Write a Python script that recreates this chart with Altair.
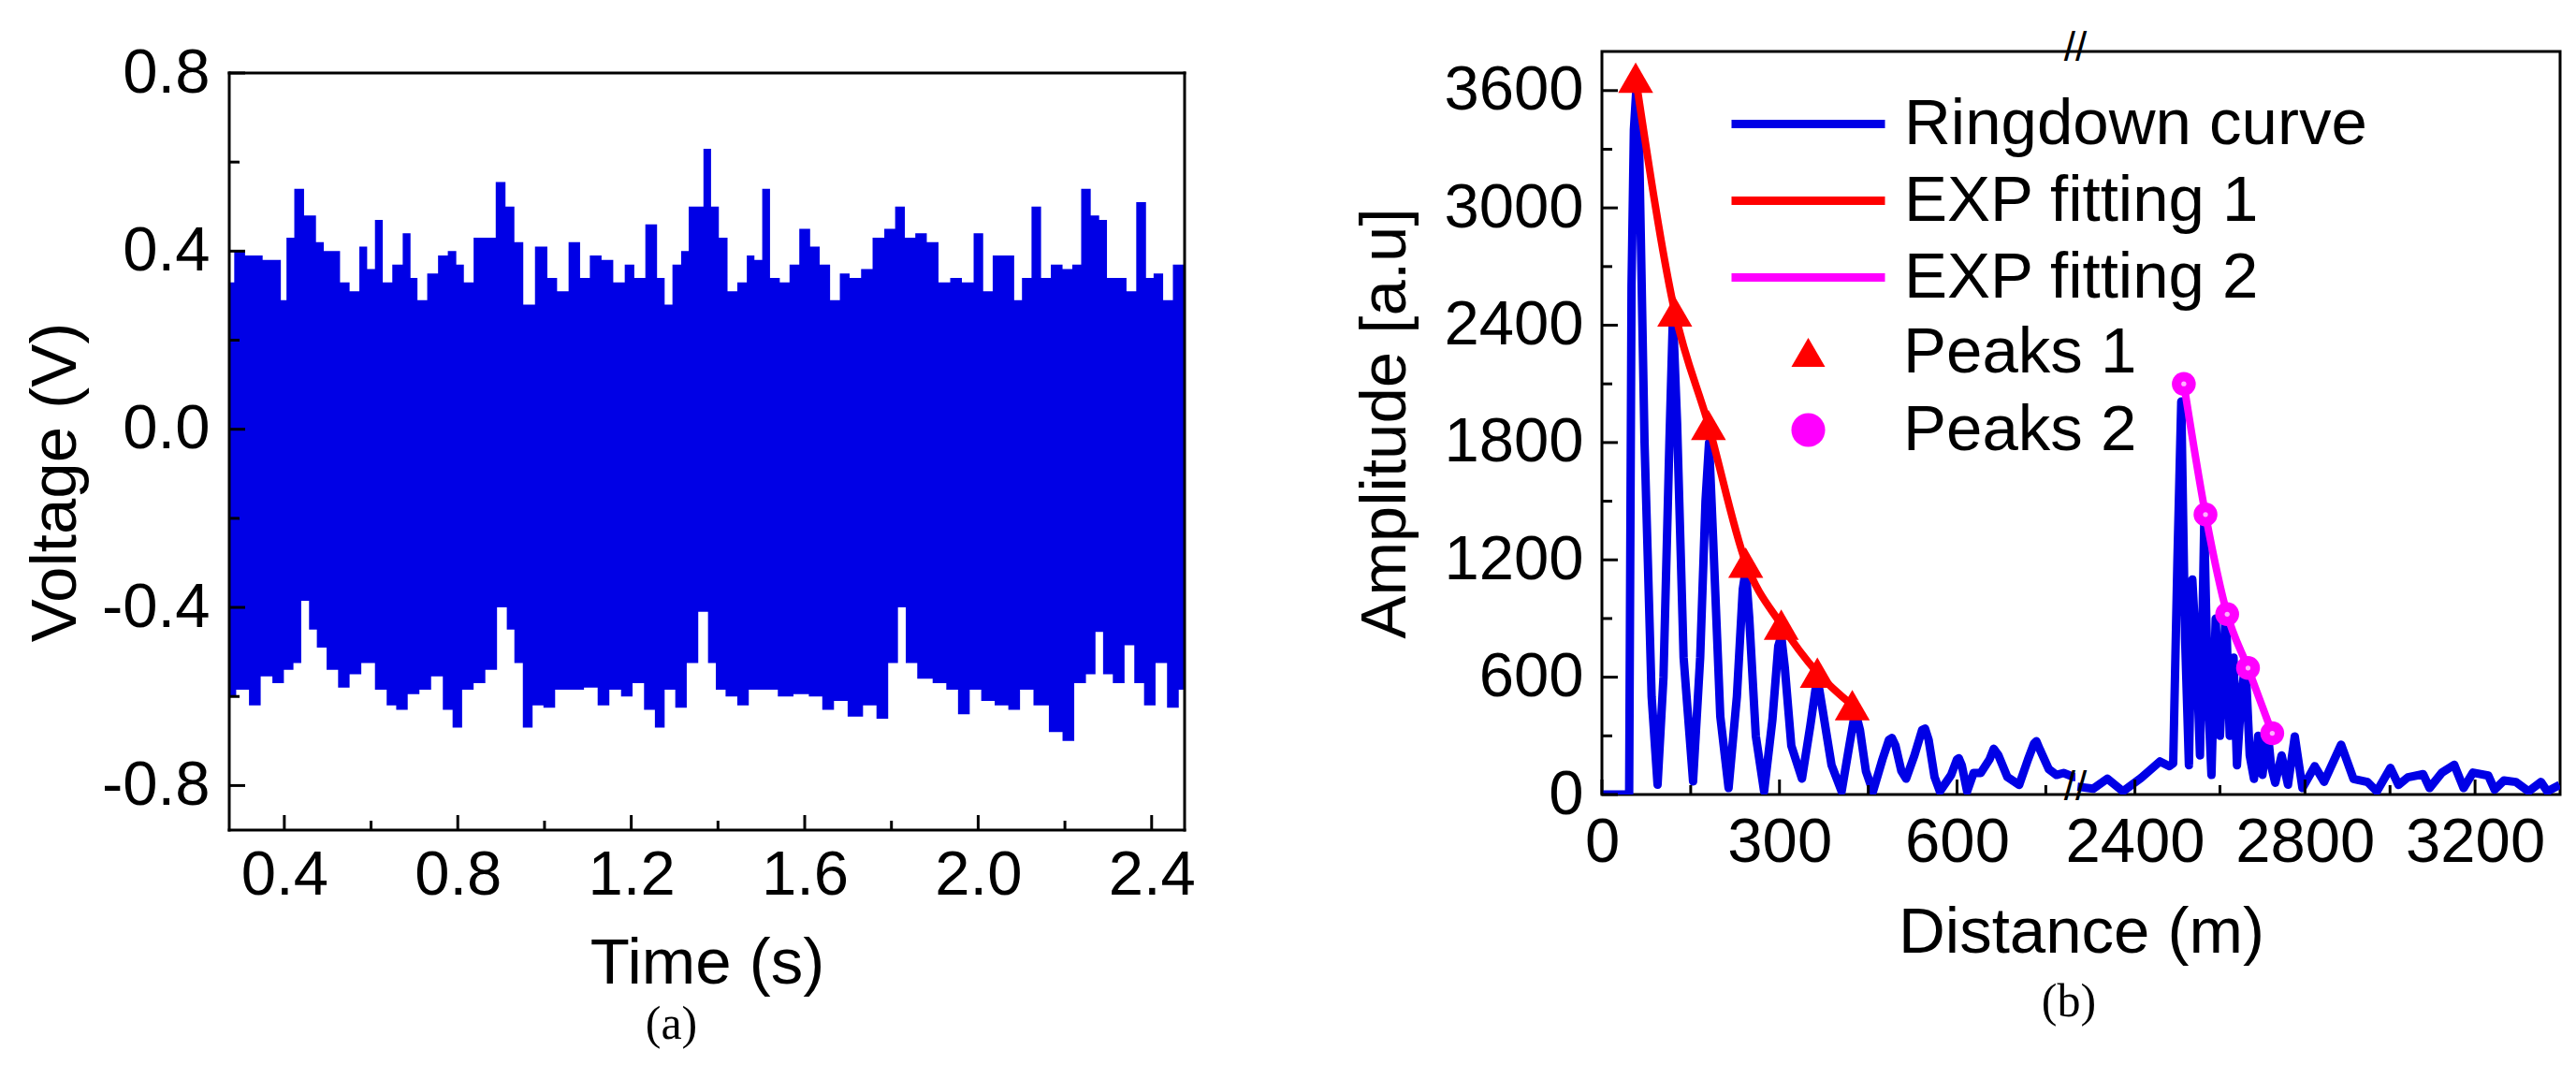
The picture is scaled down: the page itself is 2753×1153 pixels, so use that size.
import altair as alt
import pandas as pd

BLUE = "#0000e6"
RED = "#ff0000"
MAGENTA = "#ff00ff"
FONT = "Liberation Sans"

# ---------------- Panel (a): voltage signal envelope ----------------
T_UP = [0.273, 0.296, 0.323, 0.341, 0.359, 0.386, 0.398, 0.412, 0.434, 0.457, 0.466, 0.480, 0.502, 0.520,
        0.537, 0.564, 0.582, 0.600, 0.618, 0.636, 0.662, 0.684, 0.698, 0.716, 0.743, 0.766, 0.788, 0.805,
        0.823, 0.850, 0.877, 0.898, 0.922, 0.939, 0.963, 0.993, 1.020, 1.038, 1.073, 1.091, 1.118, 1.145,
        1.172, 1.198, 1.216, 1.249, 1.270, 1.284, 1.306, 1.324, 1.341, 1.356, 1.377, 1.391, 1.413, 1.431,
        1.458, 1.475, 1.493, 1.511, 1.529, 1.556, 1.574, 1.601, 1.624, 1.645, 1.672, 1.690, 1.717, 1.743,
        1.770, 1.797, 1.820, 1.842, 1.868, 1.895, 1.922, 1.949, 1.976, 2.003, 2.020, 2.047, 2.074, 2.092,
        2.110, 2.136, 2.154, 2.181, 2.208, 2.226, 2.249, 2.270, 2.288, 2.306, 2.333, 2.351, 2.378, 2.396,
        2.413, 2.440, 2.458, 2.476]
V_UP = [0.33, 0.40, 0.39, 0.39, 0.38, 0.38, 0.29, 0.43, 0.54, 0.48, 0.48, 0.42, 0.40, 0.40,
        0.33, 0.31, 0.41, 0.36, 0.47, 0.33, 0.37, 0.44, 0.34, 0.29, 0.35, 0.39, 0.40, 0.37,
        0.33, 0.43, 0.43, 0.555, 0.50, 0.42, 0.28, 0.41, 0.34, 0.31, 0.42, 0.34, 0.39, 0.38,
        0.33, 0.37, 0.34, 0.46, 0.34, 0.28, 0.37, 0.40, 0.50, 0.50, 0.63, 0.50, 0.43, 0.31,
        0.33, 0.39, 0.38, 0.54, 0.34, 0.33, 0.37, 0.45, 0.41, 0.37, 0.29, 0.35, 0.34, 0.36,
        0.43, 0.45, 0.50, 0.43, 0.44, 0.42, 0.33, 0.34, 0.33, 0.44, 0.31, 0.39, 0.39, 0.29,
        0.34, 0.50, 0.34, 0.37, 0.36, 0.37, 0.54, 0.48, 0.47, 0.34, 0.34, 0.31, 0.51, 0.34,
        0.35, 0.29, 0.37, 0.37]
T_LO = [0.273, 0.305, 0.332, 0.359, 0.386, 0.412, 0.430, 0.448, 0.466, 0.484, 0.511, 0.537, 0.564, 0.591,
        0.627, 0.645, 0.671, 0.698, 0.725, 0.752, 0.779, 0.797, 0.823, 0.850, 0.877, 0.904, 0.922, 0.939,
        0.961, 0.984, 1.011, 1.038, 1.073, 1.109, 1.136, 1.163, 1.190, 1.216, 1.243, 1.266, 1.288, 1.315,
        1.341, 1.368, 1.386, 1.404, 1.431, 1.458, 1.484, 1.520, 1.556, 1.592, 1.627, 1.654, 1.681, 1.717,
        1.752, 1.779, 1.806, 1.824, 1.842, 1.877, 1.913, 1.940, 1.967, 1.994, 2.020, 2.056, 2.083, 2.110,
        2.145, 2.181, 2.208, 2.235, 2.262, 2.279, 2.297, 2.324, 2.351, 2.369, 2.396, 2.422, 2.449, 2.476]
V_LO = [-0.60, -0.585, -0.62, -0.555, -0.57, -0.54, -0.525, -0.385, -0.45, -0.49, -0.54, -0.58, -0.55, -0.525,
        -0.585, -0.62, -0.63, -0.595, -0.585, -0.555, -0.63, -0.67, -0.585, -0.57, -0.54, -0.40, -0.45, -0.525,
        -0.67, -0.62, -0.625, -0.585, -0.585, -0.58, -0.62, -0.585, -0.60, -0.57, -0.63, -0.67, -0.585, -0.625,
        -0.525, -0.41, -0.525, -0.585, -0.60, -0.62, -0.585, -0.585, -0.60, -0.595, -0.60, -0.63, -0.61, -0.645,
        -0.62, -0.65, -0.525, -0.40, -0.525, -0.56, -0.57, -0.585, -0.64, -0.585, -0.61, -0.62, -0.63, -0.585,
        -0.62, -0.68, -0.70, -0.57, -0.55, -0.455, -0.55, -0.57, -0.485, -0.57, -0.62, -0.525, -0.625, -0.585]
A_XTICKS = [0.4, 0.8, 1.2, 1.6, 2.0, 2.4]
A_XMINOR = [0.6, 1.0, 1.4, 1.8, 2.2]
A_YTICKS = [-0.8, -0.4, 0.0, 0.4, 0.8]
A_YMINOR = [-0.6, -0.2, 0.2, 0.6]
A_XDOM = [0.273, 2.476]
A_YDOM = [-0.9, 0.8]

# ---------------- Panel (b): ringdown curve ----------------
RING1_D = [0, 46, 50, 54, 58, 63, 72, 84, 94, 104, 114, 120, 127, 138, 154, 166, 175, 181, 188, 200,
           214, 228, 238, 243, 249, 260, 274, 288, 298, 303, 309, 320, 338, 352, 361, 366, 372, 388,
           405, 418, 426, 430, 436, 446, 458, 474, 485, 490, 496, 506, 514, 528, 541, 546, 552, 562,
           571, 590, 600, 603, 608, 617, 628, 640, 655, 662, 670, 685, 705, 720, 730, 734, 740, 755,
           768, 780, 797, 800]
RING1_A = [0, 0, 2600, 3400, 3600, 3300, 1800, 500, 50, 600, 1800, 2450, 1900, 700, 67, 700, 1500, 1800, 1300, 400,
           33, 500, 1050, 1150, 900, 300, 16, 380, 760, 810, 650, 250, 81, 350, 540, 560, 450, 150,
           16, 250, 390, 402, 330, 120, 16, 180, 280, 289, 250, 120, 81, 200, 330, 337, 280, 90,
           16, 100, 180, 186, 150, 16, 110, 110, 180, 234, 200, 90, 49, 180, 260, 273, 230, 130,
           100, 110, 90, 90]
RING2_D = [2265, 2302, 2335, 2372, 2415, 2459, 2481, 2490, 2500, 2509, 2518, 2527, 2535, 2545, 2553, 2563,
           2572, 2580, 2590, 2600, 2614, 2623, 2632, 2640, 2650, 2660, 2670, 2680, 2690, 2700, 2712, 2720,
           2730, 2745, 2760, 2776, 2794, 2823, 2845, 2885, 2914, 2947, 2969, 3001, 3020, 3042, 3078, 3093,
           3122, 3151, 3173, 3195, 3231, 3246, 3268, 3296, 3326, 3355, 3370, 3399]
RING2_A = [40, 30, 81, 16, 86, 169, 145, 160, 1200, 2010, 800, 150, 1100, 700, 200, 1380,
           500, 100, 900, 300, 957, 300, 700, 150, 500, 675, 200, 80, 300, 100, 330, 150,
           60, 200, 50, 297, 33, 145, 65, 255, 80, 64, 16, 136, 49, 88, 104, 33,
           112, 152, 33, 112, 97, 25, 72, 64, 16, 64, 16, 49]
PEAK1_D = [57, 123, 180, 243, 303, 364, 423]
PEAK1_A = [3666, 2470, 1890, 1186, 869, 623, 457]
PEAK2_D = [2515, 2566, 2617, 2666, 2723]
PEAK2_A = [2100, 1432, 922, 647, 313]
LINE_NAMES = ["Ringdown curve", "EXP fitting 1", "EXP fitting 2"]
PEAK_NAMES = ["Peaks 1", "Peaks 2"]
B_SEG1 = [0, 800]
B_SEG2 = [2260, 3400]
B_BREAK_FRAC = 506 / 1024
B_XTICKS = [0, 300, 600, 2400, 2800, 3200]
B_XMINOR = [150, 450, 750, 2600, 3000]
B_YTICKS = [0, 600, 1200, 1800, 2400, 3000, 3600]
B_YMINOR = [300, 900, 1500, 2100, 2700, 3300]
B_YDOM = [0, 3800]

# layout (pixels)
A_FRAME_H = 809          # visible frame height of panel (a)
A_TOP_GAP = 23           # panel (a) frame sits this much lower than panel (b)
AW, AH = 1021, A_FRAME_H + A_TOP_GAP
BW, BH = 1024, 794
MAJ, MIN = 16, 10

F = B_BREAK_FRAC
A_YSCALE_TOP = A_YDOM[1] + A_TOP_GAP * (A_YDOM[1] - A_YDOM[0]) / A_FRAME_H


def bpos(d):
    if d <= B_SEG1[1]:
        return (d - B_SEG1[0]) / (B_SEG1[1] - B_SEG1[0]) * F
    return F + (d - B_SEG2[0]) / (B_SEG2[1] - B_SEG2[0]) * (1 - F)


def xticks(xenc, field, values, h, length):
    return alt.Chart(pd.DataFrame({field: values})).mark_rule(color="black", strokeWidth=3).encode(
        x=xenc, y=alt.value(h), y2=alt.value(h - length))


def yticks(yenc, field, values, length):
    return alt.Chart(pd.DataFrame({field: values})).mark_rule(color="black", strokeWidth=3).encode(
        y=yenc, x=alt.value(0), x2=alt.value(length))


# ---------- left chart ----------
up_df = pd.DataFrame({"t": T_UP, "v": V_UP})
up_df["base"] = -0.2
lo_df = pd.DataFrame({"t": T_LO, "v": V_LO})
lo_df["base"] = 0.2

xa = alt.X("t:Q", scale=alt.Scale(domain=A_XDOM, nice=False, zero=False),
           axis=alt.Axis(values=A_XTICKS, labelExpr="format(datum.value, '.1f')",
                         labelPadding=15, title="Time (s)", titleY=108))
ya = alt.Y("v:Q", scale=alt.Scale(domain=[A_YDOM[0], A_YSCALE_TOP], nice=False, zero=False),
           axis=alt.Axis(values=A_YTICKS,
                         labelExpr="(datum.value < -1e-9 ? '-' : '') + format(abs(datum.value), '.1f')",
                         labelPadding=21, title="Voltage (V)", titlePadding=14, titleY=460))

upper = alt.Chart(up_df).mark_area(color=BLUE, interpolate="step", opacity=1).encode(
    x=xa, y=ya, y2="base:Q")
lower = alt.Chart(lo_df).mark_area(color=BLUE, interpolate="step", opacity=1).encode(
    x=xa, y=ya, y2="base:Q")

x0, x1 = A_XDOM
y0, y1 = A_YDOM
frame_df = pd.DataFrame({"t": [x0, x0, x0, x1], "t2": [x1, x1, x0, x1],
                         "v": [y1, y0, y0, y0], "v2": [y1, y0, y1, y1]})
frame = alt.Chart(frame_df).mark_rule(color="black", strokeWidth=3, strokeCap="square").encode(
    x=xa, x2="t2:Q", y=ya, y2="v2:Q")

left = alt.layer(
    upper, lower, frame,
    xticks(xa, "t", A_XTICKS, AH, MAJ), xticks(xa, "t", A_XMINOR, AH, MIN),
    yticks(ya, "v", A_YTICKS, MAJ + 1), yticks(ya, "v", A_YMINOR, MIN + 1),
).properties(
    width=AW, height=AH, view=alt.ViewBackground(stroke="transparent"),
    title=alt.TitleParams("(a)", orient="bottom", font="Liberation Serif", fontSize=50,
                          fontWeight="normal", color="black", offset=-20, dx=-38, dy=26))

# ---------- right chart ----------
ring_df = pd.DataFrame({
    "xp": [bpos(d) for d in RING1_D] + [bpos(d) for d in RING2_D],
    "A": RING1_A + RING2_A,
    "seg": [1] * len(RING1_D) + [2] * len(RING2_D),
})
ring_df["series"] = LINE_NAMES[0]
fit_df = pd.DataFrame({
    "xp": [bpos(d) for d in PEAK1_D] + [bpos(d) for d in PEAK2_D],
    "A": PEAK1_A + PEAK2_A,
    "series": [LINE_NAMES[1]] * len(PEAK1_D) + [LINE_NAMES[2]] * len(PEAK2_D),
})
pk_df = pd.DataFrame({
    "xp": [bpos(d) for d in PEAK1_D] + [bpos(d) for d in PEAK2_D],
    "A": PEAK1_A + PEAK2_A,
    "peaks": [PEAK_NAMES[0]] * len(PEAK1_D) + [PEAK_NAMES[1]] * len(PEAK2_D),
})
pk2_df = pk_df[pk_df["peaks"] == PEAK_NAMES[1]]

xlab = (f"datum.value <= {F} + 1e-6 ? format(round(datum.value / {F} * {B_SEG1[1]}), 'd') : "
        f"format(round({B_SEG2[0]} + (datum.value - {F}) / (1 - {F}) * {B_SEG2[1] - B_SEG2[0]}), 'd')")
xb = alt.X("xp:Q", scale=alt.Scale(domain=[0, 1], nice=False, zero=False),
           axis=alt.Axis(values=[bpos(v) for v in B_XTICKS], labelExpr=xlab,
                         labelPadding=18, title="Distance (m)", titleY=113))
yb = alt.Y("A:Q", scale=alt.Scale(domain=B_YDOM, nice=False, zero=False),
           axis=alt.Axis(values=B_YTICKS, format="d", labelPadding=20,
                         title="Amplitude [a.u]", titlePadding=27))

line_legend = alt.Legend(title=None, orient="none", legendX=175, legendY=32,
                         symbolType="M-2,0L2,0", symbolSize=6724, symbolStrokeWidth=9,
                         labelFont=FONT, labelFontSize=69, labelColor="black", labelOffset=57,
                         rowPadding=1, labelLimit=2000, padding=0)
pt_legend = alt.Legend(title=None, orient="none", legendX=186, legendY=287, symbolSize=1300,
                       labelFont=FONT, labelFontSize=69, labelColor="black", labelOffset=67,
                       rowPadding=13, labelLimit=2000, padding=0, symbolStrokeWidth=0)
line_color = alt.Color("series:N", scale=alt.Scale(domain=LINE_NAMES, range=[BLUE, RED, MAGENTA]),
                       legend=line_legend)

ring = alt.Chart(ring_df).mark_line(strokeWidth=9, clip=True, strokeJoin="round").encode(
    x=xb, y=yb, detail="seg:N", color=line_color)
fits = alt.Chart(fit_df).mark_line(strokeWidth=8, clip=True, interpolate="monotone").encode(
    x=xb, y=yb, color=line_color)
lines_group = alt.layer(ring, fits)

pts = alt.Chart(pk_df).mark_point(filled=True, opacity=1, clip=True).encode(
    x=xb, y=yb,
    color=alt.Color("peaks:N", scale=alt.Scale(domain=PEAK_NAMES, range=[RED, MAGENTA]), legend=pt_legend),
    shape=alt.Shape("peaks:N", scale=alt.Scale(domain=PEAK_NAMES, range=["triangle-up", "circle"]),
                    legend=pt_legend),
    size=alt.Size("peaks:N", scale=alt.Scale(domain=PEAK_NAMES, range=[1400, 650]), legend=None),
)
hl = alt.Chart(pk2_df).mark_point(filled=True, opacity=1, color="#ffb0ff", size=28).encode(x=xb, y=yb)

brk_df = pd.DataFrame({"xp": [bpos(B_SEG1[1])], "txt": ["//"]})
brk_top = alt.Chart(brk_df).mark_text(font=FONT, fontSize=44, color="black").encode(
    x=xb, y=alt.value(-3), text="txt:N")
brk_bot = alt.Chart(brk_df).mark_text(font=FONT, fontSize=44, color="black").encode(
    x=xb, y=alt.value(BH - 7), text="txt:N")

right = alt.layer(
    lines_group, pts, hl,
    xticks(xb, "xp", [bpos(v) for v in B_XTICKS], BH, MAJ),
    xticks(xb, "xp", [bpos(v) for v in B_XMINOR], BH, MIN),
    yticks(yb, "A", B_YTICKS, MAJ + 1), yticks(yb, "A", B_YMINOR, MIN + 1),
    brk_top, brk_bot,
).resolve_scale(color="independent", shape="independent").properties(
    width=BW, height=BH,
    title=alt.TitleParams("(b)", orient="bottom", font="Liberation Serif", fontSize=50,
                          fontWeight="normal", color="black", offset=-4, dx=-13, dy=19))

chart = alt.hconcat(left, right, spacing=166).properties(
    padding={"left": 16, "top": 20, "right": 0, "bottom": 0}
).configure_view(stroke="black", strokeWidth=3).configure_axis(
    labelFont=FONT, labelFontSize=67, labelColor="black", titleFont=FONT, titleFontSize=69,
    titleFontWeight="normal", titleColor="black", domain=False, grid=False, ticks=False,
    labelFlush=False, labelOverlap=False)

chart.save("out.html", embed_options={"renderer": "svg", "actions": False})
